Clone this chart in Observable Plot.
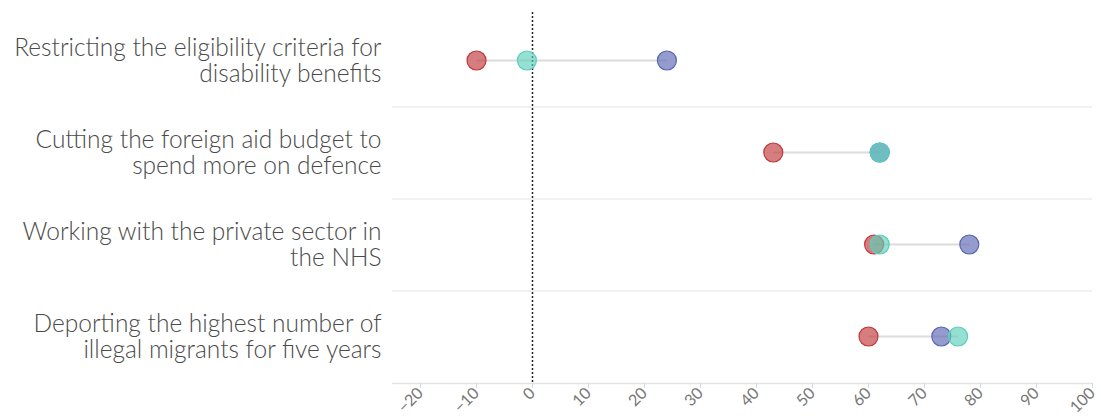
<!DOCTYPE html>
<html>
<head>
<meta charset="utf-8">
<script src="https://cdn.jsdelivr.net/npm/d3@7"></script>
<script src="https://cdn.jsdelivr.net/npm/@observablehq/plot@0.6"></script>
<style>
  html, body { margin: 0; padding: 0; background: #fff; }
  #chart { width: 1101px; height: 416px; }
</style>
</head>
<body>
<div id="chart"></div>
<script>
// Categories (line breaks as in the reference)
const categories = [
  "Restricting the eligibility criteria for\ndisability benefits",
  "Cutting the foreign aid budget to\nspend more on defence",
  "Working with the private sector in\nthe NHS",
  "Deporting the highest number of\nillegal migrants for five years"
];
// Series values (net support)
const labourValues = [-10, 43, 61, 60];
const conservativeValues = [24, 62, 78, 73];
const reformValues = [-1, 62, 62, 76];
// Tick labels
const xTicks = [-20, -10, 0, 10, 20, 30, 40, 50, 60, 70, 80, 90, 100];
const xDomain = [-25, 100];

const seriesNames = ["Labour", "Conservative", "Reform UK"];
const seriesColors = ["#c0393b", "#5a66b2", "#5ccfba"];
const seriesValues = [labourValues, conservativeValues, reformValues];

const points = [];
seriesNames.forEach((s, i) => {
  categories.forEach((c, j) => points.push({series: s, category: c, value: seriesValues[i][j]}));
});
const ranges = categories.map((c, j) => {
  const vs = seriesValues.map(a => a[j]);
  return {category: c, lo: d3.min(vs), hi: d3.max(vs)};
});

const width = 1101, height = 416;
const marginTop = 12, marginBottom = 33, marginLeft = 392, marginRight = 9;
const band = (height - marginTop - marginBottom) / categories.length;

const plot = Plot.plot({
  width, height, marginTop, marginBottom, marginLeft, marginRight,
  style: {fontFamily: "Lato, 'Noto Sans', sans-serif", background: "#fff"},
  x: {domain: xDomain, ticks: xTicks},
  y: {type: "band", domain: categories, padding: 0},
  color: {domain: seriesNames, range: seriesColors},
  marks: [
    Plot.ruleY(categories.slice(0, -1), {y: d => d, dy: band / 2, stroke: "#ececec", strokeWidth: 1.5}),
    Plot.frame({anchor: "bottom", stroke: "#e3e3e3", strokeWidth: 1.5}),
    Plot.axisX({ticks: xTicks, tickRotate: -45, tickSize: 5, stroke: "#d5d5d5", fill: "#777", fontSize: 16, tickPadding: 2, label: null}),
    Plot.axisY({tickSize: 0, tickPadding: 11, fontSize: 24.5, fontWeight: 300, fill: "#4a4a4a", label: null, lineHeight: 1.08}),
    Plot.link(ranges, {x1: "lo", x2: "hi", y1: "category", y2: "category", stroke: "#dcdcdc", strokeWidth: 2}),
    Plot.ruleX([0], {stroke: "#222", strokeWidth: 1.5, strokeDasharray: "2,2"}),
    Plot.dot(points, {x: "value", y: "category", r: 9.5, fill: "series", fillOpacity: 0.65, stroke: "series", strokeWidth: 1.2})
  ]
});
document.getElementById("chart").appendChild(plot);
</script>
</body>
</html>
